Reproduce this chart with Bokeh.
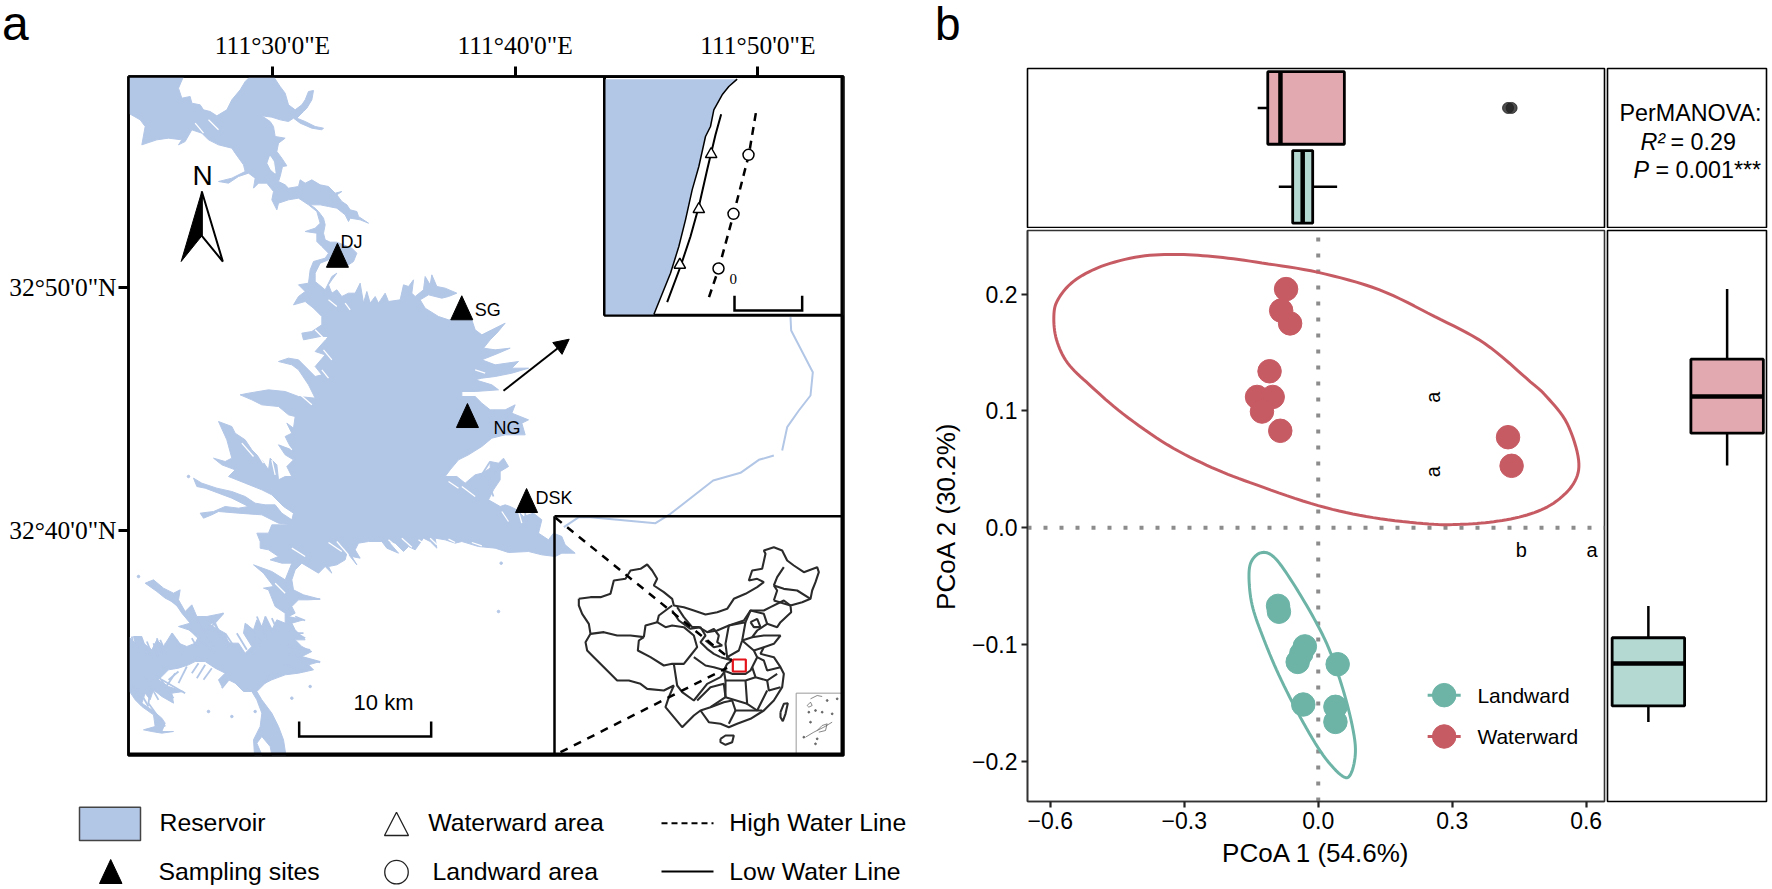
from bokeh.plotting import figure
from bokeh.layouts import row, column
from bokeh.embed import file_html
from bokeh.resources import INLINE
from bokeh.core.properties import value
from bokeh.models import (Range1d, FixedTicker, Div, Arrow, NormalHead)

SANS = "Liberation Sans"
SERIF = "Liberation Serif"
WATER = "#B2C6E6"
RED = "#C75B64"
GREEN = "#6DB4A7"
PINK_FILL = "#E3A9B0"
GREEN_FILL = "#B4D9D2"

# ---------- panel b data ----------
WATERWARD_X = [-0.072, -0.083, -0.063, -0.109, -0.137, -0.102, -0.126, -0.085, 0.425, 0.433]
WATERWARD_Y = [0.2044, 0.186, 0.175, 0.134, 0.112, 0.112, 0.0995, 0.083, 0.0775, 0.053]
LANDWARD_X = [-0.090, -0.088, -0.030, -0.046, -0.038, 0.0435, -0.0335, 0.0385, 0.0385]
LANDWARD_Y = [-0.067, -0.072, -0.1017, -0.115, -0.108, -0.117, -0.1515, -0.1535, -0.1664]
RED_ELLIPSE_X = [-.312, -.399, -.486, -.548, -.583, -.592, -.586, -.561, -.511, -.437, -.337, -.238, -.138, 0, .123,
                 .2475, .318, .393, .4675, .527, .572, .583, .557, .512, .475, .372, .26, .136, 0, -.126, -.225, -.312]
RED_ELLIPSE_Y = [.234, .2324, .2238, .211, .1953, .181, .161, .141, .122, .0975, .0709, .0515, .0366, .0189, .0086,
                 .0032, .0029, .0051, .0109, .021, .038, .058, .0895, .112, .125, .158, .181, .2039, .2187, .2268, .2319, .234]
GREEN_ELLIPSE_X = [-.128, -.15, -.155, -.148, -.1256, -.088, -.0386, .0112, .0547, .0734, .0833, .0759, .0547, .0236,
                   -.0137, -.0634, -.1, -.128]
GREEN_ELLIPSE_Y = [-.0214, -.0292, -.0434, -.0663, -.092, -.1263, -.1635, -.195, -.213, -.2106, -.192, -.1692, -.1377,
                   -.1034, -.0749, -.0434, -.0249, -.0214]
PCOA1_BOX = {"Waterward": (-.113, -.0846, .0585, -.1356, .0585), "Landward": (-.0572, -.0348, -.0124, -.0883, .0423)}
PCOA2_BOX = {"Waterward": (.081, .1123, .1444, .0532, .2044), "Landward": (-.1527, -.1163, -.0943, -.1664, -.0672)}
PCOA1_OUTLIERS = [0.425, 0.433]
X_TICKS = [-0.6, -0.3, 0.0, 0.3, 0.6]
X_TICK_LABELS = ["\u22120.6", "\u22120.3", "0.0", "0.3", "0.6"]
Y_TICKS = [-0.2, -0.1, 0.0, 0.1, 0.2]
Y_TICK_LABELS = ["\u22120.2", "\u22120.1", "0.0", "0.1", "0.2"]

# ---------- panel a data: traced outlines ----------
RES_NORTH = [(0,0),(165,0),(150,35),(160,65),(185,60),(190,80),(215,85),(225,100),(245,105),(265,118),(295,100),(310,70),
 (335,40),(350,15),(365,0),(435,0),(455,30),(470,50),(480,85),(500,100),(520,85),(530,70),(540,45),(555,42),(550,70),
 (535,95),(525,105),(505,125),(530,135),(560,150),(585,155),(580,160),(550,155),(515,140),(495,125),(480,135),(455,130),
 (430,122),(400,118),(425,135),(435,150),(440,180),(470,185),(450,200),(445,225),(460,245),(475,268),(462,270),(455,300),
 (450,315),(470,325),(480,335),(510,330),(515,310),(530,320),(550,310),(575,325),(600,330),(620,350),(640,345),(625,355),
 (640,375),(655,385),(665,400),(685,405),(690,420),(720,440),(695,430),(665,425),(660,435),(650,415),(625,395),(600,390),
 (575,385),(545,385),(560,395),(570,405),(585,425),(590,445),(585,470),(590,490),(605,497),(625,497),(670,515),(685,530),
 (675,555),(660,565),(640,560),(600,550),(575,560),(560,590),(560,615),(590,640),(600,620),(610,600),(625,590),(610,610),
 (600,625),(610,650),(625,640),(640,660),(660,650),(680,650),(695,620),(705,680),(715,645),(725,680),(740,660),(750,680),
 (770,650),(780,675),(815,670),(825,625),(840,630),(855,610),(850,650),(860,660),(885,640),(890,600),(905,625),(910,595),
 (925,630),(950,635),(985,650),(960,660),(940,665),(900,655),(875,670),(890,695),(930,720),(960,730),(1030,730),(1040,760),
 (1060,775),(1090,760),(1130,740),(1105,770),(1085,790),(1065,815),(1100,820),(1145,815),(1110,830),(1060,850),(1100,865),
 (1170,855),(1150,875),(1200,875),(1150,890),(1100,900),(1060,905),(1040,910),(1090,925),(1110,940),(1040,945),(1000,945),
 (1000,960),(1040,960),(1060,980),(1085,1000),(1130,1000),(1160,985),(1150,1010)]
RES_SOUTH = [(1200,10),(1180,20),(1190,55),(1130,55),(1090,65),(1060,90),(1020,115),(990,130),(965,160),(950,180),(985,180),
 (1010,200),(1040,175),(1060,170),(1085,155),(1085,135),(1110,140),(1125,125),(1140,150),(1115,165),(1115,190),(1095,220),
 (1080,250),(1115,270),(1130,265),(1145,270),(1165,280),(1185,300),(1215,290),(1240,310),(1230,350),(1260,370),(1275,350),
 (1300,360),(1310,385),(1340,410),(1300,410),(1280,420),(1240,415),(1200,405),(1140,408),(1100,395),(1050,390),(1000,375),
 (980,380),(950,370),(920,365),(925,395),(905,375),(885,365),(860,400),(840,390),(825,405),(800,380),(780,375),(810,410),
 (775,395),(760,375),(720,375),(690,380),(680,400),(695,425),(670,420),(685,445),(665,420),(650,400),(630,375),(655,410),
 (650,430),(625,445),(600,450),(610,470),(590,450),(570,470),(545,455),(520,440),(500,460),(490,490),(495,520),(525,535),
 (575,548),(540,550),(510,550),(490,570),(500,590),(480,600),(525,610),(490,620),(500,640),(530,670),(500,670),(520,690),
 (550,705),(520,720),(575,735),(540,745),(555,760),(510,770),(470,775),(430,790),(410,800),(385,825),(400,850),(430,890),
 (450,930),(465,970),(472,1015),(430,1015),(425,990),(400,960),(385,980),(400,1015),(378,1015),(375,970),(395,930),(400,890),
 (385,850),(370,825),(345,825),(320,800),(300,790),(280,810),(270,790),(290,770),(260,755),(230,735),(200,735),(180,745),
 (150,755),(120,760),(90,790),(120,810),(165,825),(130,830),(135,860),(100,840),(75,820),(65,850),(50,830),(40,860),(70,880),
 (100,905),(110,920),(100,945),(135,945),(100,950),(70,945),(45,940),(80,930),(75,895),(40,870),(20,850),(0,820),(0,660),
 (20,680),(15,660),(40,660),(45,680),(70,700),(85,670),(105,690),(130,650),(150,680),(175,690),(200,680),(210,660),(180,640),
 (150,630),(185,620),(160,590),(140,560),(110,545),(85,525),(50,500),(75,490),(105,515),(135,530),(155,520),(150,550),
 (170,585),(190,565),(205,600),(235,600),(285,590),(265,610),(245,625),(290,650),(300,680),(330,680),(350,710),(370,690),
 (345,650),(350,620),(375,640),(385,610),(400,630),(410,600),(430,640),(445,610),(470,620),(470,590),(440,570),(420,520),
 (405,515),(435,510),(405,470),(375,445),(430,465),(470,490),(490,440),(460,440),(425,430),(450,420),(420,400),(395,395),
 (395,375),(385,350),(420,350),(430,325),(490,325),(450,320),(400,295),(330,290),(270,285),(250,295),(225,305),(215,290),
 (255,285),(290,270),(330,275),(360,270),(310,245),(270,230),(230,215),(205,210),(195,185),(220,200),(265,215),(310,225),
 (350,240),(380,260),(410,265),(440,265),(460,290),(490,310),(495,290),(465,270),(430,235),(400,220),(350,200),(300,180),
 (320,160),(280,145),(255,125),(290,135),(310,125),(295,70),(270,15),(310,30),(320,50),(350,70),(370,100),(400,130),(420,160),
 (425,125),(445,145),(450,190),(470,180),(490,180),(475,150),(495,130),(470,115),(450,85),(490,100),(470,60),(490,50),(475,20),
 (495,35),(500,0)]
RES_WEST = [(480,1015),(450,990),(400,985),(370,970),(335,955),(360,950),(420,940),(470,945),(510,960),(560,965),(540,925),
 (510,880),(490,865),(450,855),(480,845),(510,850),(540,880),(560,900),(580,895),(560,870),(590,835),(560,825),(600,780),
 (575,780),(550,785),(525,790),(520,770),(550,765),(580,745),(580,720),(555,695),(530,675),(495,685),(510,660),(530,645),
 (510,625),(540,620),(545,580),(555,555),(590,545),(600,530),(580,510),(565,495),(565,470),(530,465),(560,455),(575,440),
 (565,405),(540,385),(510,365),(480,370),(450,380),(445,400),(430,370),(435,345),(415,320),(390,320),(375,335),(380,305),
 (360,290),(330,300),(300,320),(270,315),(310,305),(350,285),(345,265),(320,230),(310,215),(270,205),(240,190),(220,170),
 (190,160),(170,195),(150,205),(160,190),(120,185),(85,190),(40,205),(50,150),(35,130),(0,110)]
RES_ISLAND = [(425,240),(435,255),(440,290),(428,280),(418,260)]
# thin arms of the reservoir (south sheet)
ARMS_SOUTH = [[(20,660),(30,710)],[(40,665),(60,720)],[(85,665),(100,710)],[(110,680),(130,715)],[(130,650),(170,705)],
 [(175,630),(215,670),(260,710)],[(240,600),(270,640),(310,690)],[(285,590),(240,640)],[(290,650),(330,710)],[(355,625),(400,680)],
 [(385,600),(415,670)],[(410,600),(440,660)],[(430,605),(450,650)],[(210,740),(190,770)],[(250,755),(225,790)],[(150,765),(120,790)],
 [(100,790),(170,830)],[(70,790),(60,860),(110,930)],[(25,810),(60,870)],[(300,790),(280,815)],[(480,690),(545,700)],[(470,710),(575,738)],
 [(460,740),(530,765)],[(500,600),(530,612)],[(495,645),(530,665)],[(500,545),(575,548)],[(420,770),(410,800)],[(1085,135),(1050,190),(1000,240)],
 [(1125,130),(1080,200),(1095,240)],[(1150,290),(1170,320)],[(1190,290),(1195,330)],[(1220,300),(1230,360)],[(60,495),(100,530),(150,570)],
 [(10,660),(20,720)],[(55,675),(75,725)],[(75,680),(90,725)],[(95,670),(115,715)],[(145,670),(160,710)],[(190,665),(215,710)],
 [(225,640),(255,690)],[(260,620),(285,680)],[(195,590),(225,650)],[(140,770),(110,815)],[(175,750),(150,800)],[(230,745),(205,785)],
 [(85,770),(135,845)],[(50,780),(90,850)],[(10,800),(40,850)],[(325,650),(355,700)],[(380,650),(395,690)],[(480,650),(525,650)],[(455,680),(500,690)]]
# fine inlets of land cut into the water (south sheet)
CUTS_SOUTH = [[(600,378),(640,405)],[(625,375),(660,415)],[(780,370),(810,395)],[(820,365),(850,392)],[(870,370),(895,388)],[(905,365),(925,385)],
 [(960,368),(980,378)],[(1030,378),(1060,388)],[(1000,210),(1040,240)],[(960,195),(990,215)],[(1120,285),(1140,315)],[(1170,285),(1180,320)],
 [(340,80),(375,120)],[(360,70),(390,110)],[(380,100),(405,140)],[(430,130),(440,175)],[(450,125),(470,165)],[(465,70),(490,100)],
 [(440,500),(470,530)],[(520,460),(560,480)],[(490,395),(530,420)]]
CUTS_NORTH = [[(600,670),(625,690)],[(650,680),(665,700)],[(560,760),(590,790)],[(585,820),(610,850)],[(580,880),(600,905)],[(1040,880),(1070,890)],
 [(240,130),(270,160)],[(200,140),(225,170)],[(510,950),(550,985)]]
RIVER = [(690,50),(692,90),(757,215),(750,285),(715,330),(680,380),(665,450)]
RIVER_2 = [(640,465),(595,478),(540,517),(458,540),(330,640),(285,668),(90,650),(55,650),(10,680)]
SPECKS_Z7 = [(1118,440),(1110,585),(545,810),(490,845),(310,900),(380,885),(180,180),(30,480),(240,885)]

INSET_WATER = [(15,8),(410,8),(385,30),(365,55),(340,100),(330,150),(315,180),(295,270),(275,340),(255,430),(235,510),
               (210,590),(160,714),(15,714)]
LOW_LINE = [(362,113),(345,175),(320,280),(295,390),(270,480),(240,570),(200,677)]
HIGH_LINE = [(466,110),(445,235),(400,410),(355,575),(322,672)]
INSET_TRI = [(332,228),(295,393),(238,560)]
INSET_CIR = [(444,235),(399,412),(354,576)]
INSET_BAR = [(402,658),(402,702),(605,702),(605,658)]

CHINA_LINES = [
 [(85,265),(120,260),(150,260),(180,250),(190,210),(225,205),(240,180),(270,175),(290,162),(305,180),(320,205),(310,225),
  (340,245),(365,265),(370,285),(400,290),(430,300),(465,312),(500,305),(530,295),(550,265),(585,250),(620,230),(640,215),
  (620,205),(595,210),(605,180),(635,175),(645,130),(640,120),(670,110),(695,120),(710,150),(730,165),(760,185),(800,170),
  (805,185),(795,215),(785,240),(780,265),(755,275),(720,285),(722,305),(690,335),(680,350),(650,340),(620,360),(605,380),
  (640,375),(690,375),(670,400),(640,410),(630,430),(670,440),(690,470),(700,490),(695,530),(670,570),(640,600),(600,625),
  (560,640),(535,650),(510,640),(475,635),(450,600),(430,615),(395,650),(370,620),(345,590),(355,560),(370,525),(340,540),
  (290,535),(270,520),(235,510),(200,510),(170,480),(130,440),(110,420),(105,395),(120,370),(115,340),(95,310),(85,285),(85,265)],
 [(120,370),(160,365),(200,375),(240,375),(280,380)],
 [(280,380),(265,390),(262,420),(300,440),(340,465),(365,460),(400,460),(420,435),(440,410),(430,375),(400,350),(365,345),
  (345,350),(320,335),(285,345),(280,380)],
 [(365,285),(325,315),(320,335)],
 [(365,300),(385,330),(420,355),(450,350),(465,375),(450,395),(470,415),(490,430),(510,440)],
 [(380,290),(400,320),(425,350),(445,350),(470,365),(500,360),(535,345),(580,330),(600,300),(640,300),(660,290),(700,270),(720,285)],
 [(470,365),(490,355),(505,375),(500,395),(515,405),(490,410),(465,390)],
 [(535,345),(525,400),(530,440),(545,450),(510,440)],
 [(535,345),(585,335),(575,390),(565,420),(530,440)],
 [(585,335),(600,300),(640,310),(650,340)],
 [(575,390),(605,380)],
 [(600,335),(620,325),(630,350),(610,350),(600,335)],
 [(670,270),(680,240),(670,225),(700,235),(740,240),(780,265)],
 [(720,285),(670,270)],
 [(670,225),(680,200),(700,170)],
 [(575,390),(610,420),(620,440),(600,480),(585,490),(545,490),(520,480),(530,460),(545,450)],
 [(610,420),(640,410)],
 [(620,440),(640,450),(650,480),(690,470)],
 [(605,470),(615,500),(650,510),(680,490)],
 [(650,510),(655,540),(690,530)],
 [(520,480),(525,510),(585,510),(615,500)],
 [(585,510),(590,580),(620,600),(650,540)],
 [(525,510),(525,560),(590,580)],
 [(440,570),(480,530),(520,520),(525,560),(480,590),(450,600)],
 [(370,460),(380,525),(395,545),(430,570),(470,520),(510,500),(525,480),(490,470),(465,465),(430,440)],
 [(480,590),(520,575),(545,570),(555,600),(610,600),(635,600)],
 [(555,600),(535,640)],
 [(510,685),(525,675),(550,675),(545,695),(525,703),(510,695),(510,685)],
 [(690,605),(700,580),(712,578),(705,610),(697,632),(690,620),(690,605)],
]
SOUTH_SEA_BOX = [(737,730),(737,548),(873,548)]
SOUTH_SEA_MARKS = [[(770,585),(780,575),(785,585),(775,590),(770,585)], [(780,565),(800,555),(815,558)], [(765,680),(790,665),(820,650),(845,635)],
                   [(800,660),(815,645),(830,640),(825,660),(805,665)]]
SOUTH_SEA_DOTS = [(775,605),(795,600),(815,605),(845,610),(780,635),(760,680),(795,700),(800,685),(860,565),(830,570)]
HUB_BOX = [(547,447),(586,447),(586,483),(547,483),(547,447)]
ZOOM_LINES = [[(15,22),(545,450)], [(30,725),(530,472)]]
SCALE_BAR = [(512,915),(512,960),(908,960),(908,915)]
NORTH_LEFT = [(220,345),(158,555),(220,478)]
NORTH_RIGHT = [(220,345),(283,555),(220,478)]

SITE_NAMES = ["DJ", "SG", "NG", "DSK"]
SITE_LON = [111.5446, 111.6300, 111.6339, 111.6745]
SITE_LAT = [32.8472, 32.8112, 32.7373, 32.6790]
SITE_LABEL_DX = [3, 13, 26, 9]
SITE_LABEL_DY = [-25, -10, 0, -15]

LON_TICKS = [111.5, 111.0 + 40 / 60, 111.0 + 50 / 60]
LON_LABELS = ["111\u00b030'0\"E", "111\u00b040'0\"E", "111\u00b050'0\"E"]
LAT_TICKS = [32.0 + 50 / 60, 32.0 + 40 / 60]
LAT_LABELS = ["32\u00b050'0\"N", "32\u00b040'0\"N"]


# ---------- conversions from tracing grid to lon / lat ----------
def lon(px):
    return 111.5 + (px - 272) / 1456.0


def lat(py):
    return 32.0 + 50 / 60 - (py - 287) / 1458.0


def north_xy(pts):
    return [lon(128 + a / 3) for a, b in pts], [lat(76 + b / 3) for a, b in pts]


def south_xy(pts):
    return [lon(128 + a / 3) for a, b in pts], [lat(416 + b / 3) for a, b in pts]


def inset_xy(pts):
    return [lon(600 + a / 3) for a, b in pts], [lat(76 + b / 3) for a, b in pts]


def river_xy(pts):
    return [lon(560 + a / 3) for a, b in pts], [lat(300 + b / 3) for a, b in pts]


def china_xy(pts):
    return [lon(550 + a / 3) for a, b in pts], [lat(510 + b / 3) for a, b in pts]


def smooth_closed(xs, ys, n=8):
    """Catmull-Rom rounding of a traced closed outline."""
    px, py = xs[:-1], ys[:-1]
    m_ = len(px)
    ox, oy = [], []
    for i in range(m_):
        for j in range(n):
            t = j / n
            def c(a):
                p0, p1, p2, p3 = a[(i - 1) % m_], a[i], a[(i + 1) % m_], a[(i + 2) % m_]
                return 0.5 * (2 * p1 + (p2 - p0) * t + (2 * p0 - 5 * p1 + 4 * p2 - p3) * t * t + (3 * p1 - p0 - 3 * p2 + p3) * t ** 3)
            ox.append(c(px))
            oy.append(c(py))
    ox.append(ox[0])
    oy.append(oy[0])
    return ox, oy


def bare(fig):
    fig.xgrid.visible = False
    fig.ygrid.visible = False
    return fig


def panel_letter(letter, left, top_, size):
    return Div(text=letter, width=40, height=0, margin=0,
               styles={"position": "absolute", "left": f"{left}px", "top": f"{top_}px", "font-family": SANS,
                       "font-size": f"{size}px", "line-height": f"{size}px", "color": "black", "z-index": "5"})


# ---------- panel a ----------
LON_RANGE = (lon(128), lon(843))
LAT_RANGE = (lat(755), lat(76))
m = figure(width=920, height=760, x_range=Range1d(*LON_RANGE), y_range=Range1d(*LAT_RANGE), output_backend="svg",
           toolbar_location=None, tools="", x_axis_location="above", min_border_left=128, min_border_right=77,
           min_border_top=76, min_border_bottom=5, outline_line_color="black", outline_line_width=2.5, frame_align=False)
bare(m)
m.xaxis.ticker = FixedTicker(ticks=LON_TICKS)
m.xaxis.major_label_overrides = dict(zip(LON_TICKS, LON_LABELS))
m.yaxis.ticker = FixedTicker(ticks=LAT_TICKS)
m.yaxis.major_label_overrides = dict(zip(LAT_TICKS, LAT_LABELS))
for ax in (m.xaxis[0], m.yaxis[0]):
    ax.major_label_text_font = SERIF
    ax.major_label_text_font_size = "25.5px"
    ax.major_label_text_color = "black"
    ax.major_tick_line_color = "black"
    ax.major_tick_line_width = 3
    ax.major_tick_out = 10
    ax.major_tick_in = 0
    ax.minor_tick_line_color = None
    ax.axis_line_color = "black"
    ax.axis_line_width = 2.5
m.xaxis.major_label_standoff = 7
m.yaxis.major_label_standoff = 2
m.yaxis.major_label_orientation = "horizontal"

nx, ny = north_xy(RES_NORTH)
sx, sy = south_xy(RES_SOUTH)
wx, wy = north_xy(RES_WEST)
m.patch(nx + sx + wx, ny + sy + wy, fill_color=WATER, line_color=WATER, line_width=1)
ix, iy = north_xy(RES_ISLAND)
m.patch(ix, iy, fill_color="white", line_color="white")
for seg in ARMS_SOUTH:
    qx, qy = south_xy(seg)
    m.line(qx, qy, line_color=WATER, line_width=1.8)
for seg in CUTS_SOUTH:
    qx, qy = south_xy(seg)
    m.line(qx, qy, line_color="white", line_width=1.3)
for seg in CUTS_NORTH:
    qx, qy = north_xy(seg)
    m.line(qx, qy, line_color="white", line_width=1.3)
for seg in (RIVER, RIVER_2):
    rx, ry = river_xy(seg)
    m.line(rx, ry, line_color=WATER, line_width=2)
ssx, ssy = south_xy(SPECKS_Z7)
m.scatter(ssx, ssy, size=2.5, color=WATER, marker="circle")

# north arrow
ax_, ay_ = north_xy(NORTH_RIGHT)
m.patch(ax_, ay_, fill_color="white", line_color="black", line_width=2)
ax_, ay_ = north_xy(NORTH_LEFT)
m.patch(ax_, ay_, fill_color="black", line_color="black", line_width=1)
m.text([lon(202)], [lat(175)], text=["N"], text_font=value(SANS), text_font_size=value("28px"), text_align="center",
       text_baseline="middle", text_color="black")

# sites
TRI_W, TRI_H = 22 / 1456.0, 24 / 1458.0
m.patches([[a - TRI_W / 2, a + TRI_W / 2, a] for a in SITE_LON], [[b, b, b + TRI_H] for b in SITE_LAT], color="black")
m.text(SITE_LON, SITE_LAT, text=SITE_NAMES, x_offset=SITE_LABEL_DX, y_offset=SITE_LABEL_DY, text_font=value(SANS),
       text_font_size=value("18px"), text_baseline="middle", text_color="black")

# pointer arrow
m.add_layout(Arrow(end=NormalHead(size=15, fill_color="black", line_color="black"), x_start=lon(503), y_start=lat(390.3),
                   x_end=lon(568.7), y_end=lat(338.7), line_width=2, line_color="black"))

# scale bar
bx, by = south_xy(SCALE_BAR)
m.line(bx, by, line_color="black", line_width=2.5, line_join="miter")
m.text([lon(383)], [lat(702)], text=["10 km"], text_font=value(SANS), text_font_size=value("22px"), text_align="center",
       text_baseline="middle", text_color="black")

# detail inset (upper right)
m.quad(left=[lon(604)], right=[lon(843)], bottom=[lat(314.7)], top=[lat(76)], fill_color="white", line_color="black", line_width=3)
wx2, wy2 = inset_xy(INSET_WATER)
m.patch(wx2, wy2, fill_color=WATER, line_color=None)
lx, ly = inset_xy(INSET_WATER[1:13])
m.line(lx, ly, line_color="black", line_width=1.5)
lx, ly = inset_xy(LOW_LINE)
m.line(lx, ly, line_color="black", line_width=2)
hx, hy = inset_xy(HIGH_LINE)
m.line(hx, hy, line_color="black", line_width=2.5, line_dash="8 6")
tx, ty = inset_xy(INSET_TRI)
m.patches([[a - 5.7 / 1456, a + 5.7 / 1456, a] for a in tx], [[b - 5 / 1458, b - 5 / 1458, b + 5 / 1458] for b in ty],
          fill_color="white", line_color="black", line_width=1.5)
cx, cy = inset_xy(INSET_CIR)
m.scatter(cx, cy, size=11, marker="circle", fill_color="white", line_color="black", line_width=1.5)
zx, zy = inset_xy([(398, 607)])
m.text(zx, zy, text=["0"], text_font=value(SERIF), text_font_size=value("15px"), text_align="center", text_baseline="middle",
       text_color="black")
bx, by = inset_xy(INSET_BAR)
m.line(bx, by, line_color="black", line_width=2.5, line_join="miter")

# China inset
m.line([lon(554), lon(554)], [lat(755), lat(515.7)], line_color="black", line_width=2.5)
m.line([lon(554), lon(843)], [lat(515.7), lat(515.7)], line_color="black", line_width=2.5)
for seg in CHINA_LINES:
    qx, qy = china_xy(seg)
    m.line(qx, qy, line_color="#2B2B2B", line_width=2.1)
qx, qy = china_xy(SOUTH_SEA_BOX)
m.line(qx, qy, line_color="#999999", line_width=1)
for seg in SOUTH_SEA_MARKS:
    qx, qy = china_xy(seg)
    m.line(qx, qy, line_color="#555555", line_width=0.7)
qx, qy = china_xy(SOUTH_SEA_DOTS)
m.scatter(qx, qy, size=1.8, marker="circle", color="#666666")
for seg in ZOOM_LINES:
    qx, qy = china_xy(seg)
    m.line(qx, qy, line_color="black", line_width=2.5, line_dash="8 7")
qx, qy = china_xy(HUB_BOX)
m.line(qx, qy, line_color="#E3141B", line_width=2.2)
# heavy right and lower frame edges
m.line([lon(843), lon(843), lon(128)], [lat(76), lat(755), lat(755)], line_color="black", line_width=6)

# map legend (page-pixel frame)
L = figure(width=920, height=125, x_range=Range1d(0, 920), y_range=Range1d(885, 760), output_backend="svg",
           toolbar_location=None, tools="", x_axis_location=None, y_axis_location=None, min_border=0, min_border_left=0,
           min_border_right=0, min_border_top=0, min_border_bottom=0, outline_line_color=None, frame_align=False)
bare(L)
L.quad(left=[79], right=[140], top=[806.7], bottom=[840], fill_color=WATER, line_color="#444444", line_width=1.5)
L.patch([99, 121.5, 110.2], [883, 883, 859], color="black")
L.patch([384, 408, 396], [835, 835, 811.7], fill_color="white", line_color="#222222", line_width=1.3)
L.scatter([396], [871.7], size=23.5, marker="circle", fill_color="white", line_color="#222222", line_width=1.3)
L.line([661, 713], [822.7, 822.7], line_color="black", line_width=2, line_dash="6 4")
L.line([661, 713], [871, 871], line_color="black", line_width=2)
LEG_TEXT = ["Reservoir", "Sampling sites", "Waterward area", "Landward area", "High Water Line", "Low Water Line"]
LEG_X = [159, 158, 427.7, 432, 728.8, 728.8]
LEG_Y = [821.7, 871, 822, 871, 822, 871]
L.text(LEG_X, LEG_Y, text=LEG_TEXT, text_font=value(SANS), text_font_size=value("24.8px"), text_baseline="middle", text_color="black")

# ---------- panel b ----------
XR = (-0.651, 0.641)
YR = (-0.2346, 0.2546)
CAT_A = (0.485, 2.5)
CAT_B = (0.481, 2.5)
CATS = {"Landward": 1, "Waterward": 2}
FILLS = {"Landward": GREEN_FILL, "Waterward": PINK_FILL}
BOX_W = 0.92

top = figure(width=686, height=228, x_range=Range1d(*XR), y_range=Range1d(*CAT_A), output_backend="svg", toolbar_location=None,
             tools="", x_axis_location=None, y_axis_location=None, min_border_left=107, min_border_right=2, min_border_top=68,
             min_border_bottom=1, outline_line_color="black", outline_line_width=1.6)
bare(top)
for name, (q1, med, q3, lo, hi) in PCOA1_BOX.items():
    c = CATS[name]
    top.segment([lo, q3], [c, c], [q1, hi], [c, c], line_color="black", line_width=2.5)
    top.quad(left=[q1], right=[q3], bottom=[c - BOX_W / 2], top=[c + BOX_W / 2], fill_color=FILLS[name], line_color="black", line_width=2.8)
    top.segment([med], [c - BOX_W / 2], [med], [c + BOX_W / 2], line_color="black", line_width=4.5)
top.scatter(PCOA1_OUTLIERS, [2, 2], size=11, marker="circle", color="#222222", alpha=0.8)

txt = figure(width=162, height=228, x_range=Range1d(1607, 1766), y_range=Range1d(227, 68), output_backend="svg", toolbar_location=None,
             tools="", x_axis_location=None, y_axis_location=None, min_border_left=1, min_border_right=2, min_border_top=68,
             min_border_bottom=1, outline_line_color="black", outline_line_width=1.6)
bare(txt)
TXT_STYLE = dict(text_font=value(SANS), text_font_size=value("23.3px"), text_baseline="middle", text_color="black")
txt.text([1619], [112.7], text=["PerMANOVA:"], **TXT_STYLE)
txt.text([1640], [141], text=["R\u00b2"], text_font_style="italic", **TXT_STYLE)
txt.text([1670], [141], text=["= 0.29"], **TXT_STYLE)
txt.text([1633], [169], text=["P"], text_font_style="italic", **TXT_STYLE)
txt.text([1655], [169], text=["= 0.001***"], **TXT_STYLE)

main = figure(width=686, height=657, x_range=Range1d(*XR), y_range=Range1d(*YR), output_backend="svg", toolbar_location=None,
              tools="", min_border_left=107, min_border_right=2, min_border_top=2, min_border_bottom=84,
              outline_line_color="#333333", outline_line_width=1.6, x_axis_label="PCoA 1 (54.6%)", y_axis_label="PCoA 2 (30.2%)")
bare(main)
main.xaxis.ticker = FixedTicker(ticks=X_TICKS)
main.xaxis.major_label_overrides = dict(zip(X_TICKS, X_TICK_LABELS))
main.yaxis.ticker = FixedTicker(ticks=Y_TICKS)
main.yaxis.major_label_overrides = dict(zip(Y_TICKS, Y_TICK_LABELS))
for ax in (main.xaxis[0], main.yaxis[0]):
    ax.major_label_text_font = SANS
    ax.major_label_text_font_size = "23px"
    ax.major_label_text_color = "black"
    ax.axis_label_text_font = SANS
    ax.axis_label_text_font_size = "26px"
    ax.axis_label_text_font_style = "normal"
    ax.axis_label_text_color = "black"
    ax.major_tick_line_color = "#222222"
    ax.major_tick_line_width = 2.2
    ax.major_tick_out = 6
    ax.major_tick_in = 0
    ax.minor_tick_line_color = None
    ax.axis_line_color = "#333333"
    ax.axis_line_width = 1.6
main.xaxis.major_label_standoff = 4
main.xaxis.axis_label_standoff = 6
main.yaxis.major_label_standoff = 4
main.yaxis.axis_label_standoff = 8
main.yaxis.major_label_orientation = "horizontal"

main.line(list(XR), [0, 0], line_color="#8C8C8C", line_width=4, line_dash="4 12")
main.line([0, 0], list(YR), line_color="#8C8C8C", line_width=4, line_dash="4 12")
ex, ey = smooth_closed(RED_ELLIPSE_X, RED_ELLIPSE_Y)
main.line(ex, ey, line_color=RED, line_width=3)
ex, ey = smooth_closed(GREEN_ELLIPSE_X, GREEN_ELLIPSE_Y)
main.line(ex, ey, line_color=GREEN, line_width=3)
main.scatter(WATERWARD_X, WATERWARD_Y, size=23.5, marker="circle", color=RED)
main.scatter(LANDWARD_X, LANDWARD_Y, size=23.5, marker="circle", color=GREEN)

LEG_NAMES = ["Landward", "Waterward"]
LEG_COL = [GREEN, RED]
LEG_KEY_X = 0.282
LEG_KEY_Y = [-0.1435, -0.1789]
LEG_TEXT_X = 0.3564
main.segment([LEG_KEY_X - .037] * 2, LEG_KEY_Y, [LEG_KEY_X + .037] * 2, LEG_KEY_Y, line_color=LEG_COL, line_width=3)
main.scatter([LEG_KEY_X] * 2, LEG_KEY_Y, size=23.5, marker="circle", color=LEG_COL)
main.text([LEG_TEXT_X] * 2, LEG_KEY_Y, text=LEG_NAMES, text_font=value(SANS), text_font_size=value("21px"), text_baseline="middle",
          text_color="black")

SIG_TEXT_X = [0.2564, 0.2564]
SIG_TEXT_Y = [0.1118, 0.048]
main.text(SIG_TEXT_X, SIG_TEXT_Y, text=["a", "a"], angle=1.5708, text_font=value(SANS), text_font_size=value("20px"),
          text_align="center", text_baseline="middle", text_color="black")
main.text([0.4545, 0.6134], [-0.0191, -0.0191], text=["b", "a"], text_font=value(SANS), text_font_size=value("20px"),
          text_align="center", text_baseline="middle", text_color="black")

side = figure(width=162, height=657, x_range=Range1d(*CAT_B), y_range=Range1d(*YR), output_backend="svg", toolbar_location=None,
              tools="", x_axis_location=None, y_axis_location=None, min_border_left=1, min_border_right=2, min_border_top=2,
              min_border_bottom=84, outline_line_color="black", outline_line_width=1.6)
bare(side)
for name, (q1, med, q3, lo, hi) in PCOA2_BOX.items():
    c = CATS[name]
    side.segment([c, c], [lo, q3], [c, c], [q1, hi], line_color="black", line_width=2.5)
    side.quad(left=[c - BOX_W / 2], right=[c + BOX_W / 2], bottom=[q1], top=[q3], fill_color=FILLS[name], line_color="black", line_width=2.8)
    side.segment([c - BOX_W / 2], [med], [c + BOX_W / 2], [med], line_color="black", line_width=4.5)

page = column(panel_letter("a", 2, 0, 48), panel_letter("b", 935, 1, 46),
              row(column(m, L), column(row(top, txt), row(main, side))))
open("out.html", "w").write(file_html(page, INLINE))
